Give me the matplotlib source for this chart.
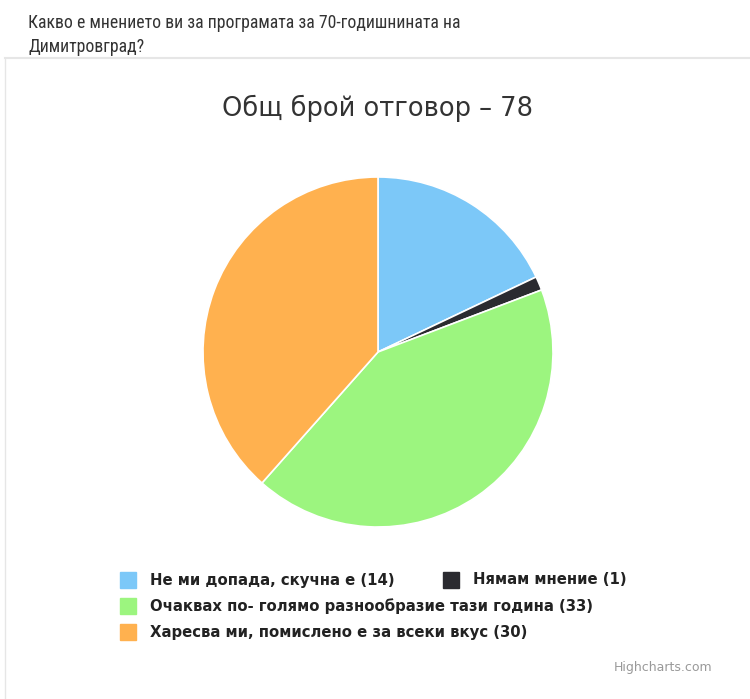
import matplotlib
matplotlib.use('Agg')
import matplotlib.pyplot as plt
from matplotlib.patches import Rectangle
from matplotlib.lines import Line2D

# data
labels = ['Не ми допада, скучна е', 'Нямам мнение',
          'Очаквах по- голямо разнообразие тази година',
          'Харесва ми, помислено е за всеки вкус']
values = [14, 1, 33, 30]
colors = ['#7cc8f8', '#2b2b30', '#9cf57f', '#ffb14f']

question = 'Какво е мнението ви за програмата за 70-годишнината на\nДимитровград?'
chart_title = 'Общ брой отговор – ' + str(sum(values))

W, H = 750, 699
fig = plt.figure(figsize=(W / 100, H / 100), dpi=100, facecolor='white')

# frame lines like the page widget
fig.add_artist(Line2D([5 / W, 5 / W], [0, 1 - 58 / H], color='#e6e6e6', lw=1))
fig.add_artist(Line2D([5 / W, 1], [1 - 58 / H, 1 - 58 / H], color='#e6e6e6', lw=1.5))

fig.text(28 / W, 1 - 35 / H, question, fontsize=12.8, color='#333333',
         family=['Roboto Condensed', 'Roboto'],
         va='center', ha='left', linespacing=1.5)

fig.text(378 / W, 1 - 108 / H, chart_title, fontsize=18.5, color='#333333',
         family='DejaVu Sans', ha='center', va='center')

# pie
cx, cy, r = 378, 352, 175
ax = fig.add_axes([(cx - r) / W, 1 - (cy + r) / H, 2 * r / W, 2 * r / H])
ax.pie(values, colors=colors, startangle=90, counterclock=False,
       wedgeprops=dict(edgecolor='white', linewidth=1.2))
ax.set_aspect('auto')
ax.set_xlim(-1, 1)
ax.set_ylim(-1, 1)
ax.axis('off')

# legend (highcharts style flow)
rows = [[0, 1], [2], [3]]
row_y = [580, 606, 632]
x_start = [120, 443]
for ri, row in enumerate(rows):
    for ci, idx in enumerate(row):
        x0 = x_start[ci]
        y0 = row_y[ri]
        fig.add_artist(Rectangle((x0 / W, 1 - (y0 + 8) / H), 16 / W, 16 / H,
                                 color=colors[idx], transform=fig.transFigure))
        fig.text((x0 + 30) / W, 1 - y0 / H, f'{labels[idx]} ({values[idx]})',
                 fontsize=10.7, fontweight='bold', color='#222222',
                 family='DejaVu Sans', va='center', ha='left')

fig.text(712 / W, 1 - 667 / H, 'Highcharts.com', fontsize=9, color='#999999',
         ha='right', va='center')

fig.savefig('out.png', dpi=100, facecolor='white')
